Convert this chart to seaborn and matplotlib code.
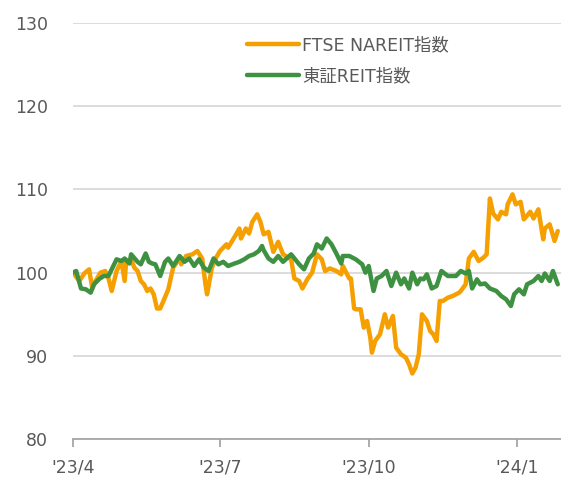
import seaborn as sns
import matplotlib.pyplot as plt
import pandas as pd
import numpy as np

# Index (start = 100)
# x is given as days since 2023-04-01
start = pd.Timestamp('2023-04-01')

nareit_days = [0, 4, 7, 10, 12, 14, 17, 20, 22, 24, 27, 30, 32, 33, 36, 38, 40, 42, 44, 46,
               48, 50, 52, 54, 56, 59, 62, 66, 67, 70, 74, 77, 80, 82, 83, 86, 88, 91, 95, 96,
               101, 103, 104, 107, 109, 111, 114, 116, 118, 121, 124, 127, 130, 135, 137, 140,
               142, 145, 148, 151, 154, 156, 159, 163, 166, 167, 171, 172, 174, 175, 178, 180,
               182, 184, 185, 187, 190, 193, 195, 198, 200, 203, 206, 208, 210, 212, 214, 216,
               219, 221, 223, 225, 227, 229, 232, 235, 239, 240, 243, 245, 248, 251, 254, 256,
               258, 260, 263, 265, 268, 269, 272, 274, 277, 279, 283, 285, 288, 291, 292, 295,
               298, 300]
nareit_vals = [100, 99.0, 99.9, 100.4, 98.1, 99.0, 100.0, 100.2, 99.3, 97.8, 100.2, 101.4, 99.0,
               101.4, 101.6, 100.6, 100.2, 99.0, 98.6, 97.8, 98.1, 97.4, 95.7, 95.7, 96.6, 98.0,
               100.6, 101.7, 101.0, 102.0, 102.2, 102.6, 101.7, 98.6, 97.4, 100.6, 101.6, 102.6,
               103.4, 103.0, 104.6, 105.3, 104.1, 105.3, 104.7, 106.1, 107.0, 106.1, 104.6, 104.9,
               102.5, 103.7, 102.2, 101.6, 99.3, 99.0, 98.1, 99.2, 100.0, 102.2, 101.6, 100.2,
               100.5, 100.2, 99.8, 100.8, 99.3, 99.3, 95.7, 95.6, 95.6, 93.4, 94.2, 92.2, 90.4,
               91.8, 92.6, 95.0, 93.4, 94.8, 91.0, 90.2, 89.8, 89.0, 87.9, 88.6, 90.2, 95.0,
               94.2, 93.0, 92.6, 91.8, 96.6, 96.6, 97.0, 97.2, 97.6, 97.8, 98.6, 101.7, 102.5,
               101.4, 101.8, 102.2, 108.9, 107.1, 106.4, 107.3, 107.0, 108.2, 109.4, 108.2,
               108.5, 106.4, 107.3, 106.5, 107.6, 104.0, 105.3, 105.8, 103.8, 105.0]

tse_days = [0, 2, 5, 8, 11, 13, 16, 19, 22, 24, 27, 30, 32, 35, 36, 40, 42, 45, 47, 49, 51, 54,
            57, 59, 62, 66, 69, 72, 75, 78, 81, 84, 87, 90, 93, 96, 100, 103, 106, 109, 112, 115,
            117, 118, 121, 124, 127, 130, 135, 140, 143, 146, 149, 151, 154, 157, 160, 163, 166,
            167, 171, 175, 179, 181, 183, 186, 188, 191, 194, 197, 200, 203, 205, 208, 210, 213,
            215, 217, 219, 222, 225, 228, 232, 237, 240, 243, 245, 247, 250, 252, 255, 258, 262,
            265, 268, 271, 273, 276, 279, 281, 285, 288, 290, 292, 295, 297, 300]
tse_vals = [100, 100.2, 98.1, 98.0, 97.6, 98.6, 99.2, 99.6, 99.6, 100.4, 101.6, 101.4, 101.7,
            101.1, 102.2, 101.3, 101.0, 102.3, 101.3, 101.1, 101.0, 99.6, 101.3, 101.7, 100.8,
            102.0, 101.3, 101.7, 100.8, 101.6, 100.6, 100.2, 101.7, 101.0, 101.3, 100.8, 101.1,
            101.3, 101.6, 102.0, 102.2, 102.6, 103.2, 102.7, 101.7, 101.3, 102.0, 101.3, 102.2,
            101.0, 100.4, 101.7, 102.3, 103.4, 102.9, 104.1, 103.4, 102.3, 101.1, 102.0, 102.0,
            101.6, 101.0, 100.0, 100.8, 97.8, 99.3, 99.6, 100.2, 98.4, 100.0, 98.6, 99.3, 98.1,
            100.0, 98.6, 99.3, 99.2, 99.8, 98.1, 98.4, 100.2, 99.6, 99.6, 100.2, 99.9, 100.2,
            98.1, 99.2, 98.6, 98.7, 98.1, 97.8, 97.2, 96.8, 96.0, 97.4, 98.0, 97.4, 98.6, 99.0,
            99.6, 99.0, 99.9, 99.0, 100.2, 98.6]

series_names = ['FTSE NAREIT指数', '東証REIT指数']
colors = ['#F5A000', '#3F9142']

tick_dates = ['2023-04-01', '2023-07-01', '2023-10-01', '2024-01-01']
tick_labels = ["'23/4", "'23/7", "'23/10", "'24/1"]

df = pd.concat([
    pd.DataFrame({'date': start + pd.to_timedelta(nareit_days, unit='D'),
                  'value': nareit_vals, 'series': series_names[0]}),
    pd.DataFrame({'date': start + pd.to_timedelta(tse_days, unit='D'),
                  'value': tse_vals, 'series': series_names[1]}),
])

sns.set_style('white')
plt.rcParams['font.family'] = ['DejaVu Sans', 'Noto Sans CJK JP']

fig = plt.figure(figsize=(5.61, 4.79), dpi=100)
ax = fig.add_axes([0.130, 0.0829, 0.870, 0.8697])

sns.lineplot(data=df, x='date', y='value', hue='series', hue_order=series_names,
             palette=colors, linewidth=3.2, ax=ax, zorder=3)

ax.set_ylim(80, 130)
ax.set_yticks(np.arange(80, 131, 10))
ax.set_xlim(start, start + pd.Timedelta(days=302))
ax.set_xticks(pd.to_datetime(tick_dates))
ax.set_xticklabels(tick_labels)
ax.grid(axis='y', color='#D9D9D9', linewidth=1.3, zorder=0)
ax.set_xlabel('')
ax.set_ylabel('')

for s in ['top', 'right', 'left']:
    ax.spines[s].set_visible(False)
ax.spines['bottom'].set_color('#A6A6A6')
ax.spines['bottom'].set_linewidth(1.3)

ax.tick_params(axis='y', length=0, pad=18, labelsize=12.5, labelcolor='#595959')
ax.tick_params(axis='x', length=6, width=1.3, color='#A6A6A6', direction='out',
               pad=8, labelsize=12.5, labelcolor='#595959', bottom=True)

ax.legend(loc='upper left', bbox_to_anchor=(0.325, 1.005), frameon=False,
          handlelength=3.0, handletextpad=0.15, labelspacing=0.75,
          fontsize=12.5, labelcolor='#595959')

plt.savefig('out.png', dpi=100)
